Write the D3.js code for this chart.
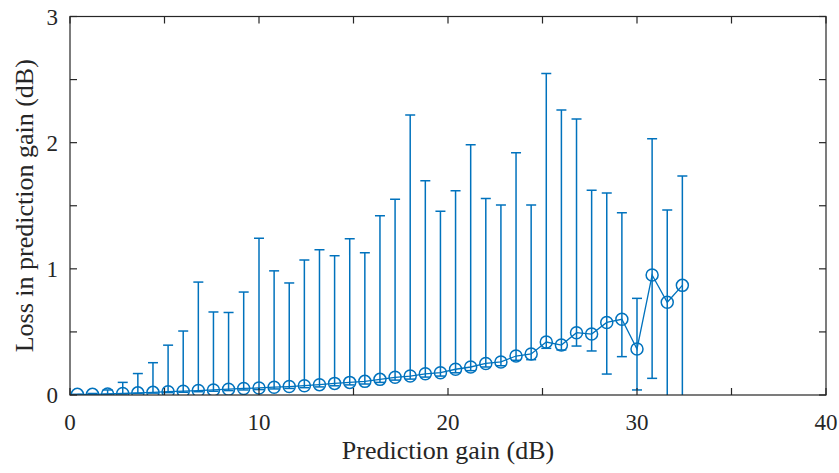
<!DOCTYPE html>
<html>
<head>
<meta charset="utf-8">
<script src="https://cdn.jsdelivr.net/npm/d3@7"></script>
<style>
  html, body { margin: 0; padding: 0; background: #fff; }
  svg { display: block; }
</style>
</head>
<body>
<svg id="chart" width="839" height="473"></svg>
<script>
// ---- Data ----
const gain = [0.39, 1.19, 1.99, 2.79, 3.59, 4.39, 5.19, 5.99, 6.79, 7.59,
              8.39, 9.19, 10.0, 10.8, 11.6, 12.4, 13.2, 14.0, 14.8, 15.6,
              16.4, 17.2, 18.0, 18.8, 19.6, 20.4, 21.2, 22.0, 22.8, 23.6,
              24.4, 25.2, 26.0, 26.8, 27.6, 28.4, 29.2, 30.0, 30.8, 31.6, 32.4];
const lossMean = [0.005, 0.005, 0.008, 0.012, 0.017, 0.021, 0.026, 0.030, 0.035, 0.040,
                  0.046, 0.052, 0.056, 0.062, 0.067, 0.074, 0.082, 0.092, 0.100, 0.108,
                  0.124, 0.140, 0.150, 0.168, 0.177, 0.204, 0.222, 0.250, 0.262, 0.309,
                  0.325, 0.420, 0.396, 0.494, 0.483, 0.575, 0.600, 0.365, 0.951, 0.735, 0.869];
const lossUpper = [0.005, 0.012, 0.040, 0.100, 0.170, 0.256, 0.395, 0.507, 0.895, 0.658,
                   0.654, 0.816, 1.242, 0.984, 0.888, 1.070, 1.152, 1.104, 1.239, 1.128,
                   1.421, 1.551, 2.219, 1.698, 1.456, 1.619, 1.983, 1.558, 1.506, 1.920,
                   1.505, 2.549, 2.258, 2.187, 1.622, 1.601, 1.445, 0.766, 2.031, 1.466, 1.735];
const lossLower = [0.003, 0.003, 0.005, 0.008, 0.012, 0.015, 0.019, 0.022, 0.026, 0.030,
                   0.035, 0.040, 0.043, 0.048, 0.052, 0.058, 0.064, 0.073, 0.080, 0.087,
                   0.100, 0.118, 0.126, 0.142, 0.150, 0.176, 0.193, 0.222, 0.232, 0.275,
                   0.280, 0.370, 0.357, 0.388, 0.349, 0.166, 0.304, 0.040, 0.132, -0.100, -0.100];
const xTickLabels = [0, 10, 20, 30, 40];
const xMinorTicks = [5, 15, 25, 35];
const yTickLabels = [0, 1, 2, 3];
const yMinorTicks = [0.5, 1.5, 2.5];
const xLabel = "Prediction gain (dB)";
const yLabel = "Loss in prediction gain (dB)";

(function () {
// ---- Layout ----
const mLeft = 70, mRight = 826, mTop = 16.5, mBottom = 395;
const color = "#0072BD";
const axisColor = "#262626";
const font = "'Liberation Serif', 'Times New Roman', serif";

const svg = d3.select("#chart");
const x = d3.scaleLinear().domain([0, 40]).range([mLeft, mRight]);
const y = d3.scaleLinear().domain([0, 3]).range([mBottom, mTop]);

const data = gain.map((g, i) => ({ g, m: lossMean[i], lo: lossLower[i], hi: lossUpper[i] }));

svg.append("defs").append("clipPath").attr("id", "clip")
  .append("rect").attr("x", mLeft).attr("y", mTop).attr("width", mRight - mLeft).attr("height", mBottom - mTop);

const plot = svg.append("g").attr("clip-path", "url(#clip)");

// Error bars
const capHalf = 5;
const eb = plot.append("g").attr("stroke", color).attr("stroke-width", 1.5).attr("fill", "none");
data.forEach(d => {
  eb.append("line").attr("x1", x(d.g)).attr("x2", x(d.g)).attr("y1", y(d.lo)).attr("y2", y(d.hi));
  eb.append("line").attr("x1", x(d.g) - capHalf).attr("x2", x(d.g) + capHalf).attr("y1", y(d.hi)).attr("y2", y(d.hi));
  eb.append("line").attr("x1", x(d.g) - capHalf).attr("x2", x(d.g) + capHalf).attr("y1", y(d.lo)).attr("y2", y(d.lo));
});

// Connecting line
plot.append("path").datum(data)
  .attr("fill", "none").attr("stroke", color).attr("stroke-width", 1.3)
  .attr("d", d3.line().x(d => x(d.g)).y(d => y(d.m)));

// Markers
plot.append("g").selectAll("circle").data(data).join("circle")
  .attr("cx", d => x(d.g)).attr("cy", d => y(d.m)).attr("r", 6)
  .attr("fill", "none").attr("stroke", color).attr("stroke-width", 1.5);

// ---- Axes box ----
const ax = svg.append("g");
ax.append("rect").attr("x", mLeft).attr("y", mTop).attr("width", mRight - mLeft).attr("height", mBottom - mTop)
  .attr("fill", "none").attr("stroke", axisColor).attr("stroke-width", 1.2);

const tickLen = 7;
const xAll = xTickLabels.concat(xMinorTicks);
const yAll = yTickLabels.concat(yMinorTicks);
xAll.forEach(v => {
  ax.append("line").attr("x1", x(v)).attr("x2", x(v)).attr("y1", mBottom).attr("y2", mBottom - tickLen).attr("stroke", axisColor).attr("stroke-width", 1.2);
  ax.append("line").attr("x1", x(v)).attr("x2", x(v)).attr("y1", mTop).attr("y2", mTop + tickLen).attr("stroke", axisColor).attr("stroke-width", 1.2);
});
yAll.forEach(v => {
  ax.append("line").attr("x1", mLeft).attr("x2", mLeft + tickLen).attr("y1", y(v)).attr("y2", y(v)).attr("stroke", axisColor).attr("stroke-width", 1.2);
  ax.append("line").attr("x1", mRight).attr("x2", mRight - tickLen).attr("y1", y(v)).attr("y2", y(v)).attr("stroke", axisColor).attr("stroke-width", 1.2);
});

// Tick labels
ax.selectAll("text.xt").data(xTickLabels).join("text")
  .attr("class", "xt").attr("x", d => x(d)).attr("y", 430)
  .attr("text-anchor", "middle").attr("font-family", font).attr("font-size", 23).attr("fill", axisColor)
  .text(d => d);
ax.selectAll("text.yt").data(yTickLabels).join("text")
  .attr("class", "yt").attr("x", 58).attr("y", d => y(d) + 8)
  .attr("text-anchor", "end").attr("font-family", font).attr("font-size", 23).attr("fill", axisColor)
  .text(d => d);

// Axis labels
ax.append("text").attr("x", (mLeft + mRight) / 2).attr("y", 459)
  .attr("text-anchor", "middle").attr("font-family", font).attr("font-size", 26).attr("fill", axisColor)
  .text(xLabel);
ax.append("text").attr("transform", `translate(33,${(mTop + mBottom) / 2}) rotate(-90)`)
  .attr("text-anchor", "middle").attr("font-family", font).attr("font-size", 26).attr("fill", axisColor)
  .text(yLabel);
})();
</script>
</body>
</html>
